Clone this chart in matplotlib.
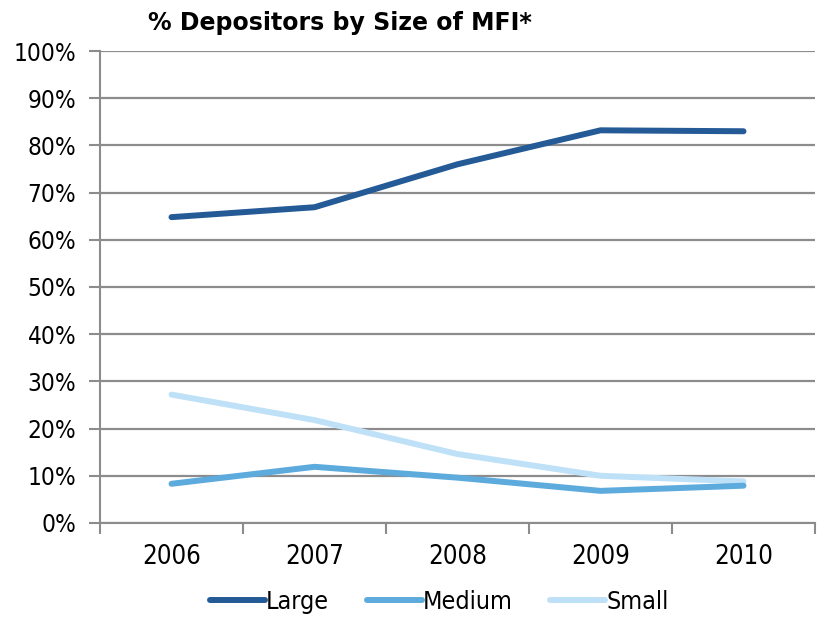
import matplotlib
matplotlib.use("Agg")
import matplotlib.pyplot as plt
from matplotlib.ticker import FixedLocator, PercentFormatter

years = ["2006", "2007", "2008", "2009", "2010"]
large = [64.8, 66.9, 76.0, 83.2, 83.0]
medium = [8.3, 11.9, 9.6, 6.8, 7.9]
small = [27.2, 21.8, 14.6, 10.0, 8.8]

plt.rcParams['font.family'] = ['DejaVu Sans']
plt.rcParams['font.stretch'] = 'condensed'

fig = plt.figure(figsize=(8.21, 6.17), dpi=100)
ax = fig.add_axes([0.1218, 0.1524, 0.8709, 0.7649])

x = range(len(years))
ax.plot(x, large, color='#245A96', lw=4.3, solid_capstyle='round', label='Large', zorder=3)
ax.plot(x, medium, color='#5DAADD', lw=4.3, solid_capstyle='round', label='Medium', zorder=3)
ax.plot(x, small, color='#BFE1F8', lw=4.3, solid_capstyle='round', label='Small', zorder=2)

ax.set_xlim(-0.5, len(years) - 0.5)
ax.set_ylim(0, 100)
ax.set_yticks(range(0, 101, 10))
ax.yaxis.set_major_formatter(PercentFormatter(decimals=0))
ax.set_xticks(list(x))
ax.set_xticklabels(years)
ax.xaxis.set_minor_locator(FixedLocator([i - 0.5 for i in range(len(years) + 1)]))
ax.tick_params(axis='x', which='major', length=0, pad=15, labelsize=18.5)
ax.tick_params(axis='x', which='minor', length=8, width=1.5, color='#8C8C8C')
ax.tick_params(axis='y', which='major', length=8, width=1.5, color='#8C8C8C', labelsize=17.5, pad=9)
ax.grid(axis='y', color='#8C8C8C', lw=1.6)
ax.set_axisbelow(True)
for s in ['top', 'right']:
    ax.spines[s].set_visible(False)
for s in ['left', 'bottom']:
    ax.spines[s].set_color('#8C8C8C')
    ax.spines[s].set_linewidth(1.5)

fig.text(0.18, 0.962, '% Depositors by Size of MFI*', fontsize=17, fontweight='bold',
         va='center', ha='left', fontstretch='normal')

leg = fig.legend(loc='center', bbox_to_anchor=(0.535, 0.024), ncol=3, frameon=False,
                 fontsize=18, handlelength=2.2, handletextpad=0.05, columnspacing=1.5)

fig.savefig('out.png', dpi=100)
